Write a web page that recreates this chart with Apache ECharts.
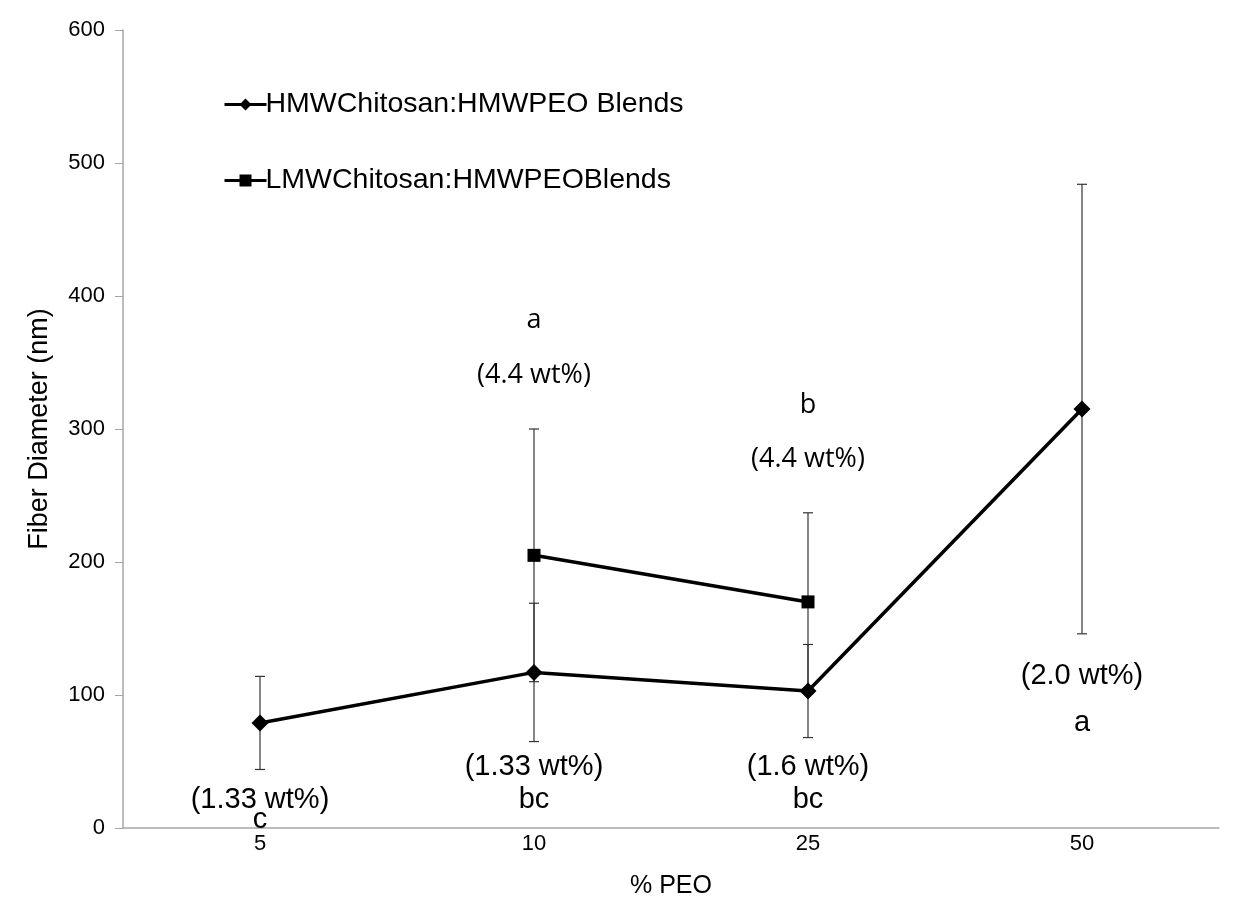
<!DOCTYPE html>
<html>
<head>
<meta charset="utf-8">
<script src="https://cdn.jsdelivr.net/npm/echarts@6/dist/echarts.min.js"></script>
<style>
  html, body { margin: 0; padding: 0; background: #fff; }
  #chart { width: 1241px; height: 905px; }
</style>
</head>
<body>
<div id="chart"></div>
<script>
// categories (% PEO)
const categories = ['5', '10', '25', '50']
const yTicks = [0, 100, 200, 300, 400, 500, 600]

// mean fiber diameter (nm) and error (+/-)
const hmwMean = [79, 117, 103, 315]
const hmwErr = [35, 52, 35, 169]
const lmwMean = [null, 205, 170, null]
const lmwErr = [null, 95, 67, null]

// text annotations: category, y value, text
const upperNotes = [
  ['10', 382, 'a'],
  ['10', 340, '(4.4 wt%)'],
  ['25', 318, 'b'],
  ['25', 277, '(4.4 wt%)']
]
const lowerNotes = [
  ['5', 21, '(1.33 wt%)'],
  ['5', 6, 'c'],
  ['10', 46, '(1.33 wt%)'],
  ['10', 21, 'bc'],
  ['25', 46, '(1.6 wt%)'],
  ['25', 21, 'bc'],
  ['50', 114, '(2.0 wt%)'],
  ['50', 79, 'a']
]

const FONT = 'Liberation Sans, Arial, sans-serif'

function errData (mean, err) {
  const out = []
  mean.forEach((m, i) => {
    if (m != null) out.push([i, m - err[i], m + err[i]])
  })
  return out
}

function renderErr (params, api) {
  const x = api.value(0)
  const lo = api.coord([x, api.value(1)])
  const hi = api.coord([x, api.value(2)])
  const cap = 5
  const style = { stroke: '#333', lineWidth: 1.2 }
  return {
    type: 'group',
    children: [
      { type: 'line', shape: { x1: lo[0], y1: lo[1], x2: hi[0], y2: hi[1] }, style },
      { type: 'line', shape: { x1: hi[0] - cap, y1: hi[1], x2: hi[0] + cap, y2: hi[1] }, style },
      { type: 'line', shape: { x1: lo[0] - cap, y1: lo[1], x2: lo[0] + cap, y2: lo[1] }, style }
    ]
  }
}

const noteLabel = (family, size) => ({
  show: true,
  position: 'inside',
  formatter: p => p.data[2],
  fontFamily: family,
  fontSize: size,
  color: '#000',
  opacity: 1,
  textBorderWidth: 0
})

const chart = echarts.init(document.getElementById('chart'))
chart.setOption({
  backgroundColor: '#fff',
  animation: false,
  grid: { left: 123, right: 22, top: 30, bottom: 77, outerBoundsMode: 'none' },
  legend: {
    data: ['HMWChitosan:HMWPEO Blends', 'LMWChitosan:HMWPEOBlends'],
    orient: 'vertical',
    left: 218,
    top: 85,
    itemWidth: 42,
    itemHeight: 15,
    itemGap: 47,
    lineStyle: { width: 3 },
    textStyle: { fontFamily: FONT, fontSize: 28.5, color: '#000', padding: [0, 0, 0, -6] }
  },
  xAxis: {
    type: 'category',
    data: categories,
    boundaryGap: true,
    name: '% PEO',
    nameLocation: 'middle',
    nameGap: 46,
    nameTextStyle: { fontFamily: FONT, fontSize: 25, color: '#000' },
    axisLine: { lineStyle: { color: '#a6a6a6', width: 1.5 } },
    axisTick: { show: false },
    axisLabel: { fontFamily: FONT, fontSize: 22, color: '#000', margin: 5 }
  },
  yAxis: {
    type: 'value',
    min: 0,
    max: 600,
    interval: 100,
    name: 'Fiber Diameter (nm)',
    nameLocation: 'middle',
    nameGap: 70,
    nameTextStyle: { fontFamily: FONT, fontSize: 27, color: '#000' },
    axisLine: { show: true, lineStyle: { color: '#a6a6a6', width: 1.5 } },
    axisTick: { show: true, inside: false, length: 8, lineStyle: { color: '#a6a6a6' } },
    splitLine: { show: false },
    axisLabel: {
      fontFamily: FONT, fontSize: 22, color: '#000', margin: 18,
      formatter: v => (yTicks.includes(v) ? String(v) : '')
    }
  },
  series: [
    {
      type: 'custom',
      name: 'errHMW',
      renderItem: renderErr,
      data: errData(hmwMean, hmwErr),
      z: 1,
      silent: true
    },
    {
      type: 'custom',
      name: 'errLMW',
      renderItem: renderErr,
      data: errData(lmwMean, lmwErr),
      z: 1,
      silent: true
    },
    {
      name: 'HMWChitosan:HMWPEO Blends',
      type: 'line',
      data: hmwMean,
      symbol: 'diamond',
      symbolSize: 17,
      lineStyle: { color: '#000', width: 3.5 },
      itemStyle: { color: '#000' },
      z: 3
    },
    {
      name: 'LMWChitosan:HMWPEOBlends',
      type: 'line',
      data: lmwMean,
      symbol: 'rect',
      symbolSize: 13,
      lineStyle: { color: '#000', width: 3.5 },
      itemStyle: { color: '#000' },
      z: 3
    },
    {
      type: 'scatter',
      name: 'notesUpper',
      data: upperNotes,
      symbolSize: 0,
      silent: true,
      itemStyle: { color: '#000', opacity: 1 },
      label: noteLabel('Open Sans, sans-serif', 27)
    },
    {
      type: 'scatter',
      name: 'notesLower',
      data: lowerNotes,
      symbolSize: 0,
      silent: true,
      itemStyle: { color: '#000', opacity: 1 },
      label: noteLabel(FONT, 29)
    }
  ]
})
</script>
</body>
</html>
